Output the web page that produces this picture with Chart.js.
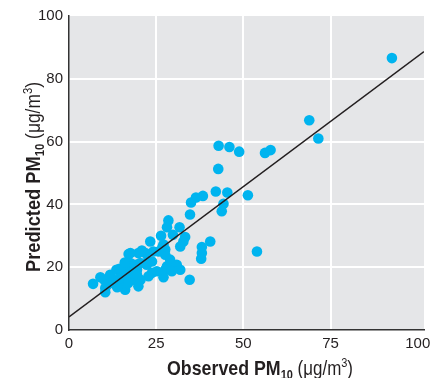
<!DOCTYPE html>
<html>
<head>
<meta charset="utf-8">
<script src="https://cdn.jsdelivr.net/npm/chart.js@4/dist/chart.umd.min.js"></script>
<style>
    body { margin: 0; background: #fff; }
    canvas { display: block; }
</style>
</head>
<body>
<canvas id="pmChart" width="440" height="378"></canvas>
<script>
// Messwerte (beobachtet) und Modellwerte (vorhergesagt), PM10 in µg/m3
const observed = [
    92.6, 68.9, 71.5, 42.9, 46.0, 48.8, 56.2, 57.8, 42.8, 42.1,
    45.4, 51.3, 38.4, 36.4, 35.0, 44.3, 43.8, 34.7, 28.5, 28.1,
    31.7, 40.5, 38.1, 38.1, 37.9, 53.9,
    29.8, 26.4, 33.3, 32.8, 31.9, 23.3, 27.1, 27.6, 27.6, 29.0,
    28.1, 27.6, 30.9, 31.9, 29.5, 27.1, 34.6, 26.8, 24.2, 21.9,
    20.9, 19.9, 17.1, 17.6, 23.8, 22.3, 23.8, 22.8, 19.5, 18.5,
    19.9, 25.7,
    6.9, 9.0, 10.1, 10.4, 10.4, 11.8, 13.6, 13.9, 15.6, 16.1,
    15.5, 16.6, 17.6, 18.1, 18.5, 19.5, 19.0, 20.4, 21.9, 25.2,
    14.2, 12.8, 13.8, 15.0, 16.5, 14.5, 12.0, 17.0, 16.0, 11.0,
    20.5
];
const predicted = [
    86.6, 66.8, 61.0, 58.7, 58.3, 56.8, 56.4, 57.3, 51.3, 44.1,
    43.8, 42.9, 42.7, 42.2, 40.6, 40.2, 37.8, 36.8, 34.9, 32.7,
    32.7, 28.2, 26.4, 24.5, 22.7, 25.0,
    30.3, 30.0, 29.6, 28.2, 26.6, 28.2, 27.2, 25.6, 24.0, 22.4,
    20.3, 19.2, 20.8, 19.2, 18.7, 16.8, 16.0, 26.4, 25.0, 24.5,
    25.3, 24.5, 24.2, 24.5, 21.8, 20.8, 18.2, 17.1, 19.2, 17.1,
    13.9, 25.0,
    14.7, 16.8, 16.0, 13.4, 12.0, 17.6, 19.2, 14.4, 13.9, 12.8,
    16.6, 20.3, 21.3, 18.7, 16.0, 17.6, 20.8, 21.3, 21.3, 18.7,
    16.0, 16.0, 13.6, 18.0, 17.5, 19.5, 15.0, 15.0, 21.5, 14.5,
    16.0
];

// Regressionsgerade
const fitIntercept = 4.2;
const fitSlope = 0.83;

// Achsen
const xMax = 101.8;
const xTicks = [0, 25, 50, 75, 100];
const yTicks = [0, 20, 40, 60, 80, 100];

const fontFamily = "'Liberation Sans', Arial, sans-serif";
const textColor = '#231f20';

const points = observed.map((x, i) => ({ x: x, y: predicted[i] }));
const fitLine = [0, xMax].map(x => ({ x: x, y: fitIntercept + fitSlope * x }));

// Hintergrund der Plotfläche
const plotBackground = {
    id: 'plotBackground',
    beforeDraw(chart) {
        const a = chart.chartArea;
        const ctx = chart.ctx;
        ctx.save();
        ctx.fillStyle = '#e5e6e8';
        ctx.fillRect(a.left, a.top, a.right - a.left, a.bottom - a.top);
        ctx.restore();
    }
};

// Achsentitel mit Index, schmal gezogen wie Helvetica Condensed
function titleParts(label) {
    return [
        { text: label + ' PM', font: "bold 21px " + fontFamily },
        { text: '10', font: "bold 13px " + fontFamily, dy: 4 },
        { text: ' (\u03bcg/m', font: "20px " + fontFamily },
        { text: '3', font: "13px " + fontFamily, dy: -8 },
        { text: ')', font: "20px " + fontFamily }
    ];
}

function drawRich(ctx, parts, targetWidth) {
    let total = 0;
    parts.forEach(p => {
        ctx.font = p.font;
        total += ctx.measureText(p.text).width;
    });
    ctx.scale(targetWidth / total, 1);
    let x = 0;
    parts.forEach(p => {
        ctx.font = p.font;
        ctx.fillText(p.text, x, p.dy || 0);
        x += ctx.measureText(p.text).width;
    });
}

const axisTitles = {
    id: 'axisTitles',
    afterDraw(chart) {
        const ctx = chart.ctx;
        ctx.save();
        ctx.fillStyle = textColor;
        ctx.textBaseline = 'alphabetic';
        ctx.textAlign = 'left';

        ctx.save();
        ctx.translate(167, 375);
        drawRich(ctx, titleParts('Observed'), 186);
        ctx.restore();

        ctx.save();
        ctx.translate(40, 272);
        ctx.rotate(-Math.PI / 2);
        drawRich(ctx, titleParts('Predicted'), 190);
        ctx.restore();

        ctx.restore();
    }
};

function gridColor(values) {
    return ctx => values.includes(ctx.tick.value) ? '#ffffff' : 'rgba(0,0,0,0)';
}

new Chart(document.getElementById('pmChart'), {
    type: 'scatter',
    data: {
        datasets: [
            {
                type: 'line',
                data: fitLine,
                borderColor: '#231f20',
                borderWidth: 1.5,
                pointRadius: 0,
                fill: false
            },
            {
                data: points,
                backgroundColor: '#00b4ef',
                borderWidth: 0,
                pointRadius: 5.3,
                pointHoverRadius: 5.3
            }
        ]
    },
    options: {
        responsive: false,
        animation: false,
        events: [],
        layout: { padding: { left: 0, top: 16, right: 16, bottom: 0 } },
        plugins: {
            legend: { display: false },
            tooltip: { enabled: false }
        },
        scales: {
            x: {
                type: 'linear',
                min: 0,
                max: xMax,
                afterFit: scale => { scale.height = 48; },
                afterBuildTicks: axis => { axis.ticks = xTicks.map(v => ({ value: v })); },
                grid: { color: gridColor([25, 50, 75]), lineWidth: 2, drawTicks: false },
                border: { display: true, color: '#333333', width: 1.5 },
                ticks: { padding: 5, color: textColor, font: { family: fontFamily, size: 15 } }
            },
            y: {
                type: 'linear',
                min: 0,
                max: 100,
                afterFit: scale => { scale.width = 69; },
                afterBuildTicks: axis => { axis.ticks = yTicks.map(v => ({ value: v })); },
                grid: { color: gridColor([20, 40, 60, 80]), lineWidth: 2, drawTicks: false },
                border: { display: true, color: '#333333', width: 1.5 },
                ticks: { padding: 6, color: textColor, font: { family: fontFamily, size: 15 } }
            }
        }
    },
    plugins: [plotBackground, axisTitles]
});
</script>
</body>
</html>
